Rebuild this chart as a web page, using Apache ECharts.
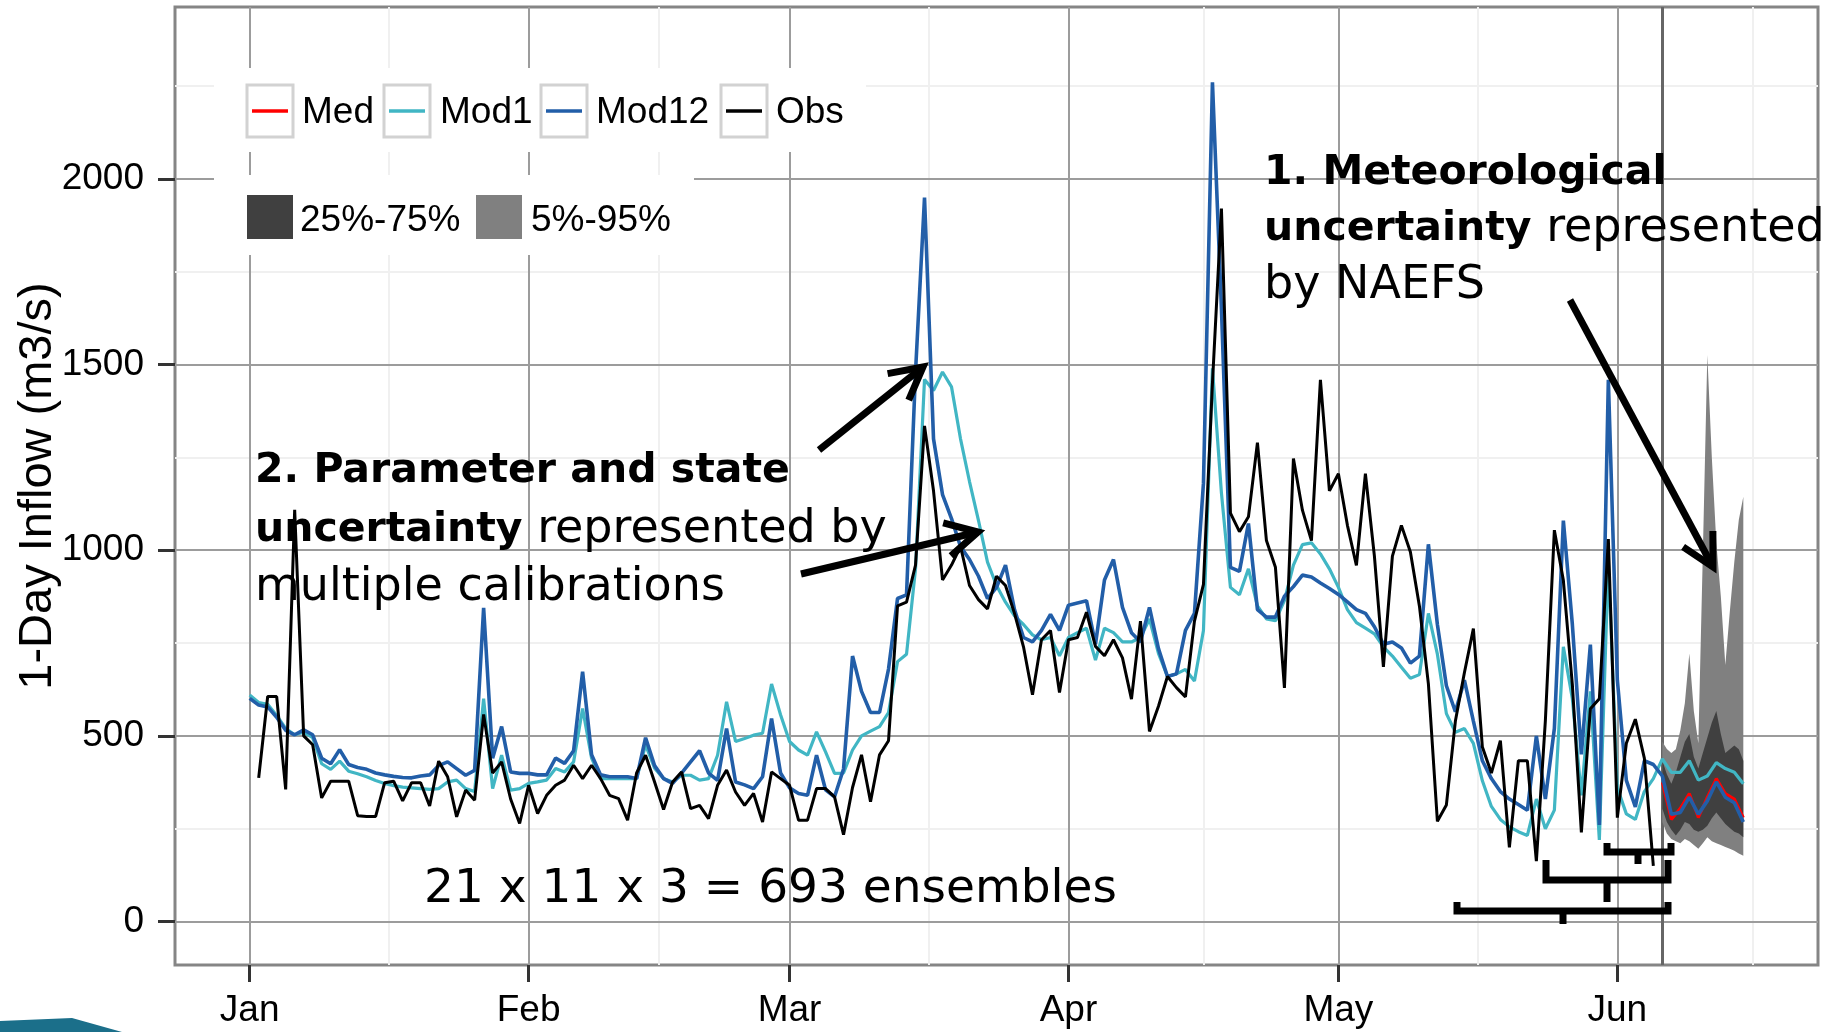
<!DOCTYPE html>
<html><head><meta charset="utf-8">
<script src="https://cdn.jsdelivr.net/npm/echarts@6/dist/echarts.min.js"></script>
<style>html,body{margin:0;padding:0;background:#fff}#c{width:1834px;height:1032px}</style>
</head><body><div id="c"></div>
<script>
// ---- axis breaks (day index from Jan 1, leap year) ----
const monthTicks = [0, 31, 60, 91, 121, 152];
const monthLabels = ['Jan', 'Feb', 'Mar', 'Apr', 'May', 'Jun'];
const minorXTicks = [15.5, 45.5, 75.5, 106, 136.5, 167];
const yTicks = [0, 500, 1000, 1500, 2000];
const minorYTicks = [250, 750, 1250, 1750, 2250];
const forecastStart = 157;

// ---- observed inflow, day 0..156 ----
const obs = [null,
 387, 606, 606, 356, 1109, 500, 476, 333, 378, 378,
 378, 285, 283, 283, 374, 378, 325, 374, 374, 311,
 432, 390, 282, 354, 327, 558, 400, 430, 330, 264,
 367, 291, 340, 367, 381, 421, 385, 421, 385, 340,
 331, 273, 400, 448, 376, 302, 376, 403, 304, 313,
 277, 367, 408, 349, 313, 345, 268, 403, 385, 367,
 273, 273, 358, 358, 336, 234, 361, 449, 323, 449,
 487, 850, 860, 960, 1335, 1160, 920, 960, 1010, 905,
 867, 842, 930, 905, 830, 740, 611, 759, 784, 617,
 759, 765, 833, 741, 716, 759, 710, 599, 809, 512,
 580, 660, 630, 605, 809, 908, 1450, 1920, 1100, 1050,
 1090, 1290, 1026, 954, 629, 1247, 1108, 1026, 1459, 1160,
 1206, 1067, 959, 1206, 984, 686, 984, 1067, 995, 850,
 640, 270, 314, 540, 670, 789, 470, 400, 487, 200,
 433, 433, 163, 541, 1054, 919, 638, 240, 573, 600,
 1030, 280, 480, 545, 440, 150];

// ---- model 1 (single calibration), day 0..166 ----
const mod1 = [
 610, 590, 585, 555, 520, 503, 510, 495, 425, 410, 432,
 405, 398, 390, 380, 372, 366, 362, 360, 358, 356,
 358, 376, 381, 358, 350, 600, 358, 448, 354, 358,
 372, 376, 381, 412, 403, 430, 574, 440, 385, 385,
 385, 385, 385, 476, 413, 385, 376, 394, 394, 381,
 385, 448, 592, 485, 493, 502, 507, 640, 557, 485,
 462, 448, 511, 457, 399, 400, 462, 500, 513, 525,
 563, 700, 720, 950, 1460, 1430, 1480, 1440, 1300, 1185,
 1080, 968, 905, 860, 823, 800, 772, 759, 765, 716,
 765, 778, 790, 704, 790, 778, 753, 753, 765, 815,
 722, 660, 667, 679, 648, 784, 1490, 1154, 900, 880,
 950, 850, 815, 810, 865, 960, 1015, 1020, 990, 950,
 900, 840, 805, 790, 775, 740, 715, 685, 655, 665,
 830, 720, 560, 510, 520, 480, 379, 310, 275, 255,
 242, 232, 330, 250, 300, 740, 600, 340, 620, 220,
 970, 360, 290, 275, 350, 385, 438, 402, 402, 433,
 381, 392, 428, 412, 402, 371];

// ---- model 12 (multi calibration), day 0..166 ----
const mod12 = [
 601, 583, 578, 550, 515, 503, 516, 503, 440, 425, 463,
 423, 415, 410, 400, 395, 391, 388, 387, 392, 395,
 420, 430, 412, 394, 407, 845, 440, 525, 403, 399,
 399, 395, 395, 440, 426, 460, 673, 449, 395, 390,
 390, 390, 385, 495, 420, 385, 372, 400, 430, 460,
 400, 380, 520, 376, 368, 358, 390, 547, 400, 360,
 345, 340, 448, 355, 336, 411, 715, 620, 563, 563,
 680, 870, 880, 1480, 1950, 1300, 1150, 1085, 1010, 975,
 930, 870, 900, 960, 840, 765, 753, 784, 827, 784,
 852, 858, 864, 747, 920, 975, 846, 778, 753, 846,
 735, 660, 667, 784, 830, 1180, 2260, 1650, 954, 943,
 1072, 840, 820, 820, 876, 902, 933, 928, 912, 897,
 881, 861, 840, 830, 794, 747, 753, 737, 696, 715,
 1016, 800, 635, 565, 650, 540, 433, 385, 350, 330,
 315, 300, 500, 330, 520, 1080, 800, 450, 746, 260,
 1459, 650, 380, 309, 433, 423, 392, 289, 294, 335,
 289, 325, 376, 335, 320, 268];

// ---- ensemble median (forecast), day 157..166 ----
const medDays = [157, 158, 159, 160, 161, 162, 163, 164, 165, 166];
const med = [375, 275, 305, 345, 280, 335, 385, 345, 330, 280];

// ---- ensemble quantile bands (forecast, half-day) ----
const bandDays = [157, 157.5, 158, 158.5, 159, 159.5, 160, 160.5, 161, 161.5, 162, 162.5, 163, 163.5, 164, 164.5, 165, 165.5, 166];
const q05 = [268, 237, 222, 216, 211, 222, 216, 206, 196, 211, 227, 216, 211, 206, 201, 196, 191, 183, 177];
const q25 = [304, 268, 247, 232, 247, 268, 263, 247, 242, 247, 258, 278, 294, 278, 263, 252, 242, 237, 227];
const q75 = [433, 397, 371, 402, 443, 484, 505, 443, 412, 454, 495, 536, 567, 505, 454, 464, 474, 464, 433];
const q95 = [484, 465, 454, 464, 515, 588, 722, 567, 480, 990, 1526, 1250, 1020, 876, 691, 835, 969, 1082, 1144];

// ---- legend ----
const lineLegendNames = ['Med', 'Mod1', 'Mod12', 'Obs'];
const lineColors = {Med: '#ff0000', Mod1: '#41b6c4', Mod12: '#225ea8', Obs: '#000000'};
const bandLegendNames = ['25%-75%', '5%-95%'];
const bandColors = {'25%-75%': '#404040', '5%-95%': '#808080'};

const chart = echarts.init(document.getElementById('c'), null, {renderer: 'canvas', width: 1834, height: 1032});

const toPairs = (xs, ys) => ys.map((v, i) => [xs ? xs[i] : i, v]).filter(p => p[1] != null);

const solid = (color, width) => ({color, width, type: 'solid'});
const gridLineData = []
  .concat(minorXTicks.map(v => ({xAxis: v, lineStyle: solid('#f0f0f0', 2)})))
  .concat(minorYTicks.map(v => ({yAxis: v, lineStyle: solid('#f0f0f0', 2)})))
  .concat(monthTicks.map(v => ({xAxis: v, lineStyle: solid('#9c9c9c', 2)})))
  .concat(yTicks.map(v => ({yAxis: v, lineStyle: solid('#9c9c9c', 2)})))
  .concat([{xAxis: forecastStart, lineStyle: solid('#666666', 3)}]);

const FONT = 'Liberation Sans';
const ANN = 'DejaVu Sans';

// legend graphics
const graphics = [];
graphics.push({type: 'rect', z: 10, shape: {x: 214, y: 68, width: 652, height: 84}, style: {fill: '#fff'}});
graphics.push({type: 'rect', z: 10, shape: {x: 214, y: 175, width: 480, height: 80}, style: {fill: '#fff'}});
const keyX = [247, 384, 541, 721];
const textX = [302, 440, 596, 776];
lineLegendNames.forEach((n, i) => {
  graphics.push({type: 'rect', z: 11, shape: {x: keyX[i], y: 85, width: 46, height: 52}, style: {fill: '#fff', stroke: '#d2d2d2', lineWidth: 3}});
  graphics.push({type: 'line', z: 12, shape: {x1: keyX[i] + 5, y1: 111, x2: keyX[i] + 41, y2: 111}, style: {stroke: lineColors[n], lineWidth: 3.5}});
  graphics.push({type: 'text', z: 12, x: textX[i], y: 113, style: {text: n, font: '37px "' + FONT + '"', fill: '#000', verticalAlign: 'middle'}});
});
const bKeyX = [247, 476], bTextX = [300, 531];
bandLegendNames.forEach((n, i) => {
  graphics.push({type: 'rect', z: 11, shape: {x: bKeyX[i], y: 195, width: 46, height: 44}, style: {fill: bandColors[n]}});
  graphics.push({type: 'text', z: 12, x: bTextX[i], y: 221, style: {text: n, font: '37px "' + FONT + '"', fill: '#000', verticalAlign: 'middle'}});
});

// annotations
const rich = {
  b: {fontFamily: ANN, fontWeight: 'bold', fontSize: 41, fill: '#000'},
  r: {fontFamily: ANN, fontWeight: 'normal', fontSize: 46, fill: '#000'},
  r2: {fontFamily: ANN, fontWeight: 'normal', fontSize: 47, fill: '#000'}
};
function ann(x, y, text) {
  graphics.push({type: 'text', z: 20, x: x, y: y, style: {text: text, rich: rich, verticalAlign: 'middle', fill: '#000', font: '46px "' + ANN + '"'}});
}
ann(255, 471, '{b|2. Parameter and state}');
ann(255, 530, '{b|uncertainty}{r| represented by}');
ann(255, 588, '{r|multiple calibrations}');
ann(1264, 173, '{b|1. Meteorological}');
ann(1264, 229, '{b|uncertainty}{r| represented}');
ann(1264, 286, '{r|by NAEFS}');
ann(424, 890, '{r2|21 x 11 x 3 = 693 ensembles}');

function arrow(x1, y1, x2, y2) {
  const ang = Math.atan2(y1 - y2, x1 - x2), L = 36, a = 28 * Math.PI / 180;
  graphics.push({type: 'line', z: 21, shape: {x1, y1, x2, y2}, style: {stroke: '#000', lineWidth: 7}});
  graphics.push({type: 'polyline', z: 21, shape: {points: [
    [x2 + L * Math.cos(ang + a), y2 + L * Math.sin(ang + a)], [x2, y2],
    [x2 + L * Math.cos(ang - a), y2 + L * Math.sin(ang - a)]]}, style: {stroke: '#000', lineWidth: 7, fill: null, lineJoin: 'miter'}});
}
arrow(819, 450, 923, 367);
arrow(801, 574, 978, 532);
arrow(1570, 300, 1713, 567);

function bracket(xl, xr, yTop, yH, xm, yBot) {
  graphics.push({type: 'polyline', z: 21, shape: {points: [[xl, yTop], [xl, yH], [xr, yH], [xr, yTop]]}, style: {stroke: '#000', lineWidth: 7, fill: null}});
  graphics.push({type: 'line', z: 21, shape: {x1: xm, y1: yH, x2: xm, y2: yBot}, style: {stroke: '#000', lineWidth: 7}});
}
bracket(1457, 1668, 902, 911, 1563, 924);
bracket(1546, 1668, 860, 880, 1607, 902);
bracket(1607, 1671, 843, 852, 1638, 864);

// slide decoration bottom-left
graphics.push({type: 'polygon', z: 22, shape: {points: [[0, 1021], [72, 1018], [122, 1032], [0, 1032]]}, style: {fill: '#1b6f8a'}});

const lineSeries = (name, data, z, width) => ({
  name, type: 'line', data, z, symbol: 'none', silent: true,
  lineStyle: {color: lineColors[name], width: width}, itemStyle: {color: lineColors[name]}
});

const bandSeries = (name, lo, hi, z) => ({
  name, type: 'custom', coordinateSystem: 'cartesian2d', silent: true, z,
  data: [[bandDays[0], lo[0]]],
  renderItem: (params, api) => {
    const top = bandDays.map((d, i) => api.coord([d, hi[i]]));
    const bot = bandDays.map((d, i) => api.coord([d, lo[i]])).reverse();
    return {type: 'polygon', shape: {points: top.concat(bot)}, style: {fill: bandColors[name]}};
  }
});

const option = {
  animation: false,
  backgroundColor: '#fff',
  grid: {left: 175, top: 7, width: 1643, height: 958, show: true, borderColor: '#858585', borderWidth: 3,
         backgroundColor: '#fff', containLabel: false, outerBoundsMode: 'none'},
  xAxis: {
    type: 'value', min: -8.3, max: 174.3,
    axisLine: {show: false, onZero: false},
    splitLine: {show: false},
    axisTick: {show: true, length: 17, customValues: monthTicks, lineStyle: {color: '#333', width: 3}},
    axisLabel: {customValues: monthTicks, formatter: v => monthLabels[monthTicks.indexOf(v)], fontSize: 37, fontFamily: FONT, color: '#000', margin: 27}
  },
  yAxis: {
    type: 'value', min: -117, max: 2463,
    name: '1-Day Inflow (m3/s)', nameLocation: 'middle', nameGap: 137, nameMoveOverlap: false,
    nameTextStyle: {fontSize: 47, fontFamily: FONT, color: '#000', align: 'center', verticalAlign: 'middle'},
    axisLine: {show: false, onZero: false},
    splitLine: {show: false},
    axisTick: {show: true, length: 17, customValues: yTicks, lineStyle: {color: '#333', width: 3}},
    axisLabel: {customValues: yTicks, formatter: v => String(v), fontSize: 37, fontFamily: FONT, color: '#000', margin: 31}
  },
  graphic: {elements: graphics},
  series: [
    {type: 'line', name: 'grid', data: [], silent: true, z: 1,
     markLine: {silent: true, z: 1, symbol: ['none', 'none'], label: {show: false}, animation: false, data: gridLineData}},
    bandSeries('5%-95%', q05, q95, 2),
    bandSeries('25%-75%', q25, q75, 3),
    lineSeries('Med', toPairs(medDays, med), 4, 3),
    lineSeries('Mod1', toPairs(null, mod1), 5, 3.2),
    lineSeries('Mod12', toPairs(null, mod12), 6, 3.6),
    lineSeries('Obs', toPairs(null, obs), 7, 3)
  ]
};
chart.setOption(option);
</script>
</body></html>
